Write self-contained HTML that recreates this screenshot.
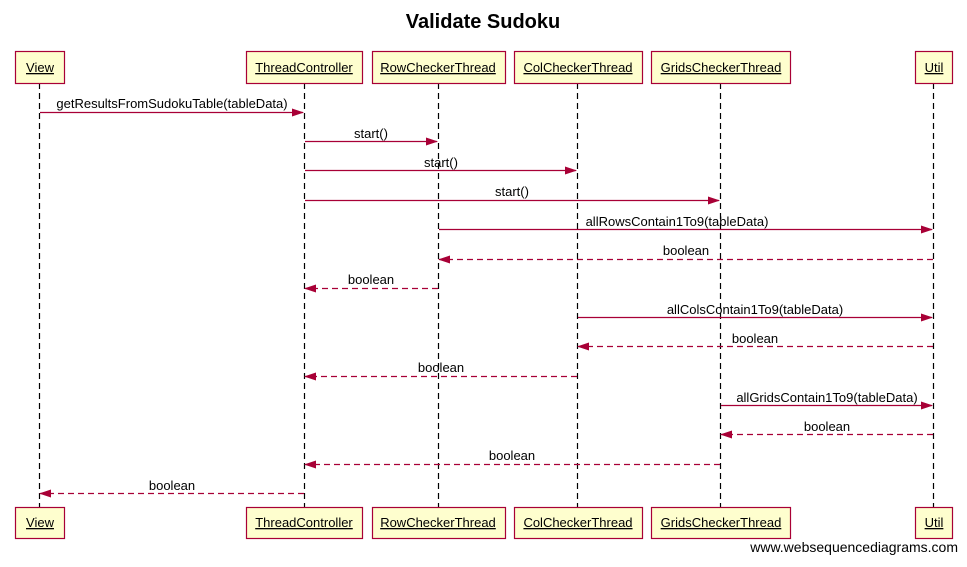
<!DOCTYPE html>
<html><head><style>body{margin:0;background:#fff}</style></head><body>
<svg width="967" height="562" xmlns="http://www.w3.org/2000/svg" font-family="Liberation Sans, sans-serif">
<defs><marker id="a" markerWidth="12" markerHeight="8" refX="11" refY="4" orient="auto" markerUnits="userSpaceOnUse"><path d="M0,0 L12,4 L0,8 Z" fill="#a80036"/></marker></defs>
<text x="483" y="28" font-size="20" font-weight="bold" text-anchor="middle">Validate Sudoku</text>
<g stroke="#000" stroke-dasharray="6,4" stroke-width="1.2">
<line x1="39.5" y1="83" x2="39.5" y2="507"/><line x1="304.5" y1="83" x2="304.5" y2="507"/>
<line x1="438.5" y1="83" x2="438.5" y2="507"/><line x1="577.5" y1="83" x2="577.5" y2="507"/>
<line x1="720.5" y1="83" x2="720.5" y2="507"/><line x1="933.5" y1="83" x2="933.5" y2="507"/>
</g>
<g fill="#fefece" stroke="#a80036" stroke-width="1.2">
<rect x="15.5" y="51.5" width="49" height="32"/><rect x="246.5" y="51.5" width="116" height="32"/>
<rect x="372.5" y="51.5" width="133" height="32"/><rect x="514.5" y="51.5" width="128" height="32"/>
<rect x="651.5" y="51.5" width="139" height="32"/><rect x="915.5" y="51.5" width="37" height="32"/>
<rect x="15.5" y="507.5" width="49" height="31"/><rect x="246.5" y="507.5" width="116" height="31"/>
<rect x="372.5" y="507.5" width="133" height="31"/><rect x="514.5" y="507.5" width="128" height="31"/>
<rect x="651.5" y="507.5" width="139" height="31"/><rect x="915.5" y="507.5" width="37" height="31"/>
</g>
<g font-size="13" text-anchor="middle" text-decoration="underline" fill="#000">
<text x="40" y="72">View</text><text x="304" y="72">ThreadController</text><text x="438" y="72">RowCheckerThread</text>
<text x="578" y="72">ColCheckerThread</text><text x="721" y="72">GridsCheckerThread</text><text x="934" y="72">Util</text>
<text x="40" y="527">View</text><text x="304" y="527">ThreadController</text><text x="438" y="527">RowCheckerThread</text>
<text x="578" y="527">ColCheckerThread</text><text x="721" y="527">GridsCheckerThread</text><text x="934" y="527">Util</text>
</g>
<g stroke="#a80036" stroke-width="1.2" marker-end="url(#a)">
<line x1="40" y1="112.5" x2="303" y2="112.5"/>
<line x1="305" y1="141.5" x2="437" y2="141.5"/>
<line x1="305" y1="170.5" x2="576" y2="170.5"/>
<line x1="305" y1="200.5" x2="719" y2="200.5"/>
<line x1="439" y1="229.5" x2="932" y2="229.5"/>
<line x1="578" y1="317.5" x2="932" y2="317.5"/>
<line x1="721" y1="405.5" x2="932" y2="405.5"/>
</g>
<g stroke="#a80036" stroke-width="1.2" stroke-dasharray="6,4" marker-end="url(#a)">
<line x1="933" y1="259.5" x2="439" y2="259.5"/>
<line x1="438" y1="288.5" x2="305" y2="288.5"/>
<line x1="933" y1="346.5" x2="578" y2="346.5"/>
<line x1="577" y1="376.5" x2="305" y2="376.5"/>
<line x1="933" y1="434.5" x2="721" y2="434.5"/>
<line x1="720" y1="464.5" x2="305" y2="464.5"/>
<line x1="304" y1="493.5" x2="40" y2="493.5"/>
</g>
<g font-size="13" text-anchor="middle" fill="#000">
<text x="172" y="108">getResultsFromSudokuTable(tableData)</text>
<text x="371" y="138">start()</text>
<text x="441" y="167">start()</text>
<text x="512" y="196">start()</text>
<text x="677" y="226">allRowsContain1To9(tableData)</text>
<text x="686" y="255">boolean</text>
<text x="371" y="284">boolean</text>
<text x="755" y="314">allColsContain1To9(tableData)</text>
<text x="755" y="343">boolean</text>
<text x="441" y="372">boolean</text>
<text x="827" y="402">allGridsContain1To9(tableData)</text>
<text x="827" y="431">boolean</text>
<text x="512" y="460">boolean</text>
<text x="172" y="490">boolean</text>
</g>
<text x="958" y="552" font-size="14" text-anchor="end">www.websequencediagrams.com</text>
</svg>
</body></html>
